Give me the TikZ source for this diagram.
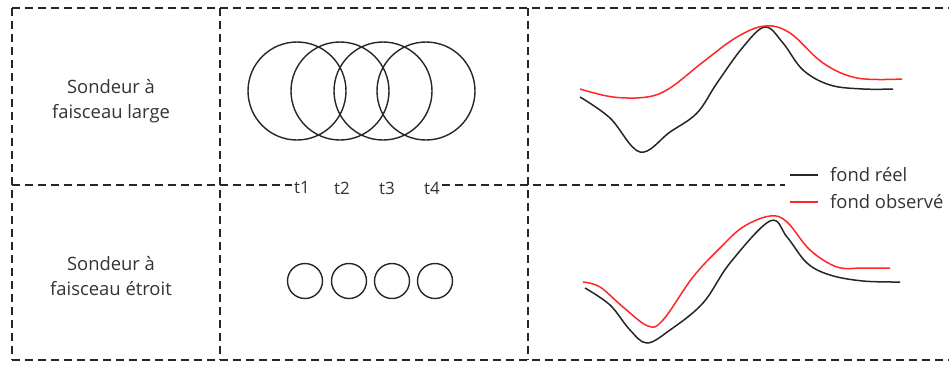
\documentclass[tikz,border=0pt]{standalone}
\usepackage{fontspec}
\setmainfont{Open Sans}
\begin{document}
\begin{tikzpicture}[x=1pt,y=-1pt,
  grille/.style={dash pattern=on 8pt off 5pt, line width=1.1pt, black!85},
  faisceau/.style={circle, draw, line width=1.4pt, black!85, inner sep=0pt},
  reel/.style={line width=1.5pt, black!85},
  observe/.style={line width=1.5pt, red!85!white},
  libelle/.style={align=center, font=\fontsize{18.4}{25}\selectfont, text=black!80},
  temps/.style={font=\fontsize{17}{18}\selectfont, text=black!80, inner sep=2pt},
  legende/.style={anchor=west, font=\fontsize{18.4}{20}\selectfont, text=black!80, inner ysep=0pt, inner xsep=12pt}]
  \useasboundingbox (0,0) rectangle (949,365);

  % grille en tirets
  \draw[grille] (12,8) -- (949,8);
  \draw[grille] (12,360) -- (949,360);
  \draw[grille] (12,8) -- (12,360);
  \draw[grille] (220,8) -- (220,360);
  \draw[grille] (528,8) -- (528,360);

  % instants t1 ... t4
  \foreach \i/\x in {1/302,2/342,3/387,4/432} {
    \node[temps] (t\i) at (\x,188) {t\i};
  }
  \coordinate (gauche) at (12,185);
  \coordinate (droite) at (785,185);
  \draw[grille] (gauche) -- (t1.west |- gauche);
  \draw[grille] (t4.east |- droite) -- (droite);

  \node[libelle] (large) at (111,101) {Sondeur à\\faisceau large};
  \node[libelle] (etroit) at (111,276) {Sondeur à\\faisceau étroit};

  % empreintes des faisceaux
  \foreach \i/\x in {1/297,2/340,3/383,4/426} {
    \node[faisceau, minimum size=98pt] (l\i) at (\x,91) {};
  }
  \foreach \i/\x in {1/305,2/349,3/392,4/435} {
    \node[faisceau, minimum size=35pt] (e\i) at (\x,281) {};
  }

  % profils
  \draw[reel] plot[smooth, tension=0.6] coordinates {(580,97) (610,118) (640,152) (670,132) (697,113) (717,83) (743,47) (765,27) (783,43) (803,70) (830,85) (863,89) (893,89)};
  \draw[observe] plot[smooth, tension=0.6] coordinates {(580,89) (613,97) (647,97) (670,88) (703,62) (737,37) (765,26) (790,33) (823,63) (857,78) (902,79)};
  \draw[reel] plot[smooth, tension=0.6] coordinates {(585,288) (610,305) (630,330) (647,343) (670,330) (703,303) (730,263) (770,221) (787,237) (807,263) (830,275) (863,281) (900,282)};
  \draw[observe] plot[smooth, tension=0.6] coordinates {(583,282) (600,287) (623,307) (648,326) (663,320) (693,277) (720,248) (743,227) (770,216) (787,222) (810,250) (837,267) (863,268) (890,268)};

  % legende
  \coordinate (lr) at (790,175);
  \coordinate (lo) at (790,202);
  \node[legende] (nreel) at (818,175) {fond réel};
  \node[legende] (nobs) at (818,202) {fond observé};
  \draw[reel] (lr) -- (nreel.west);
  \draw[observe] (lo) -- (nobs.west);
\end{tikzpicture}
\end{document}
